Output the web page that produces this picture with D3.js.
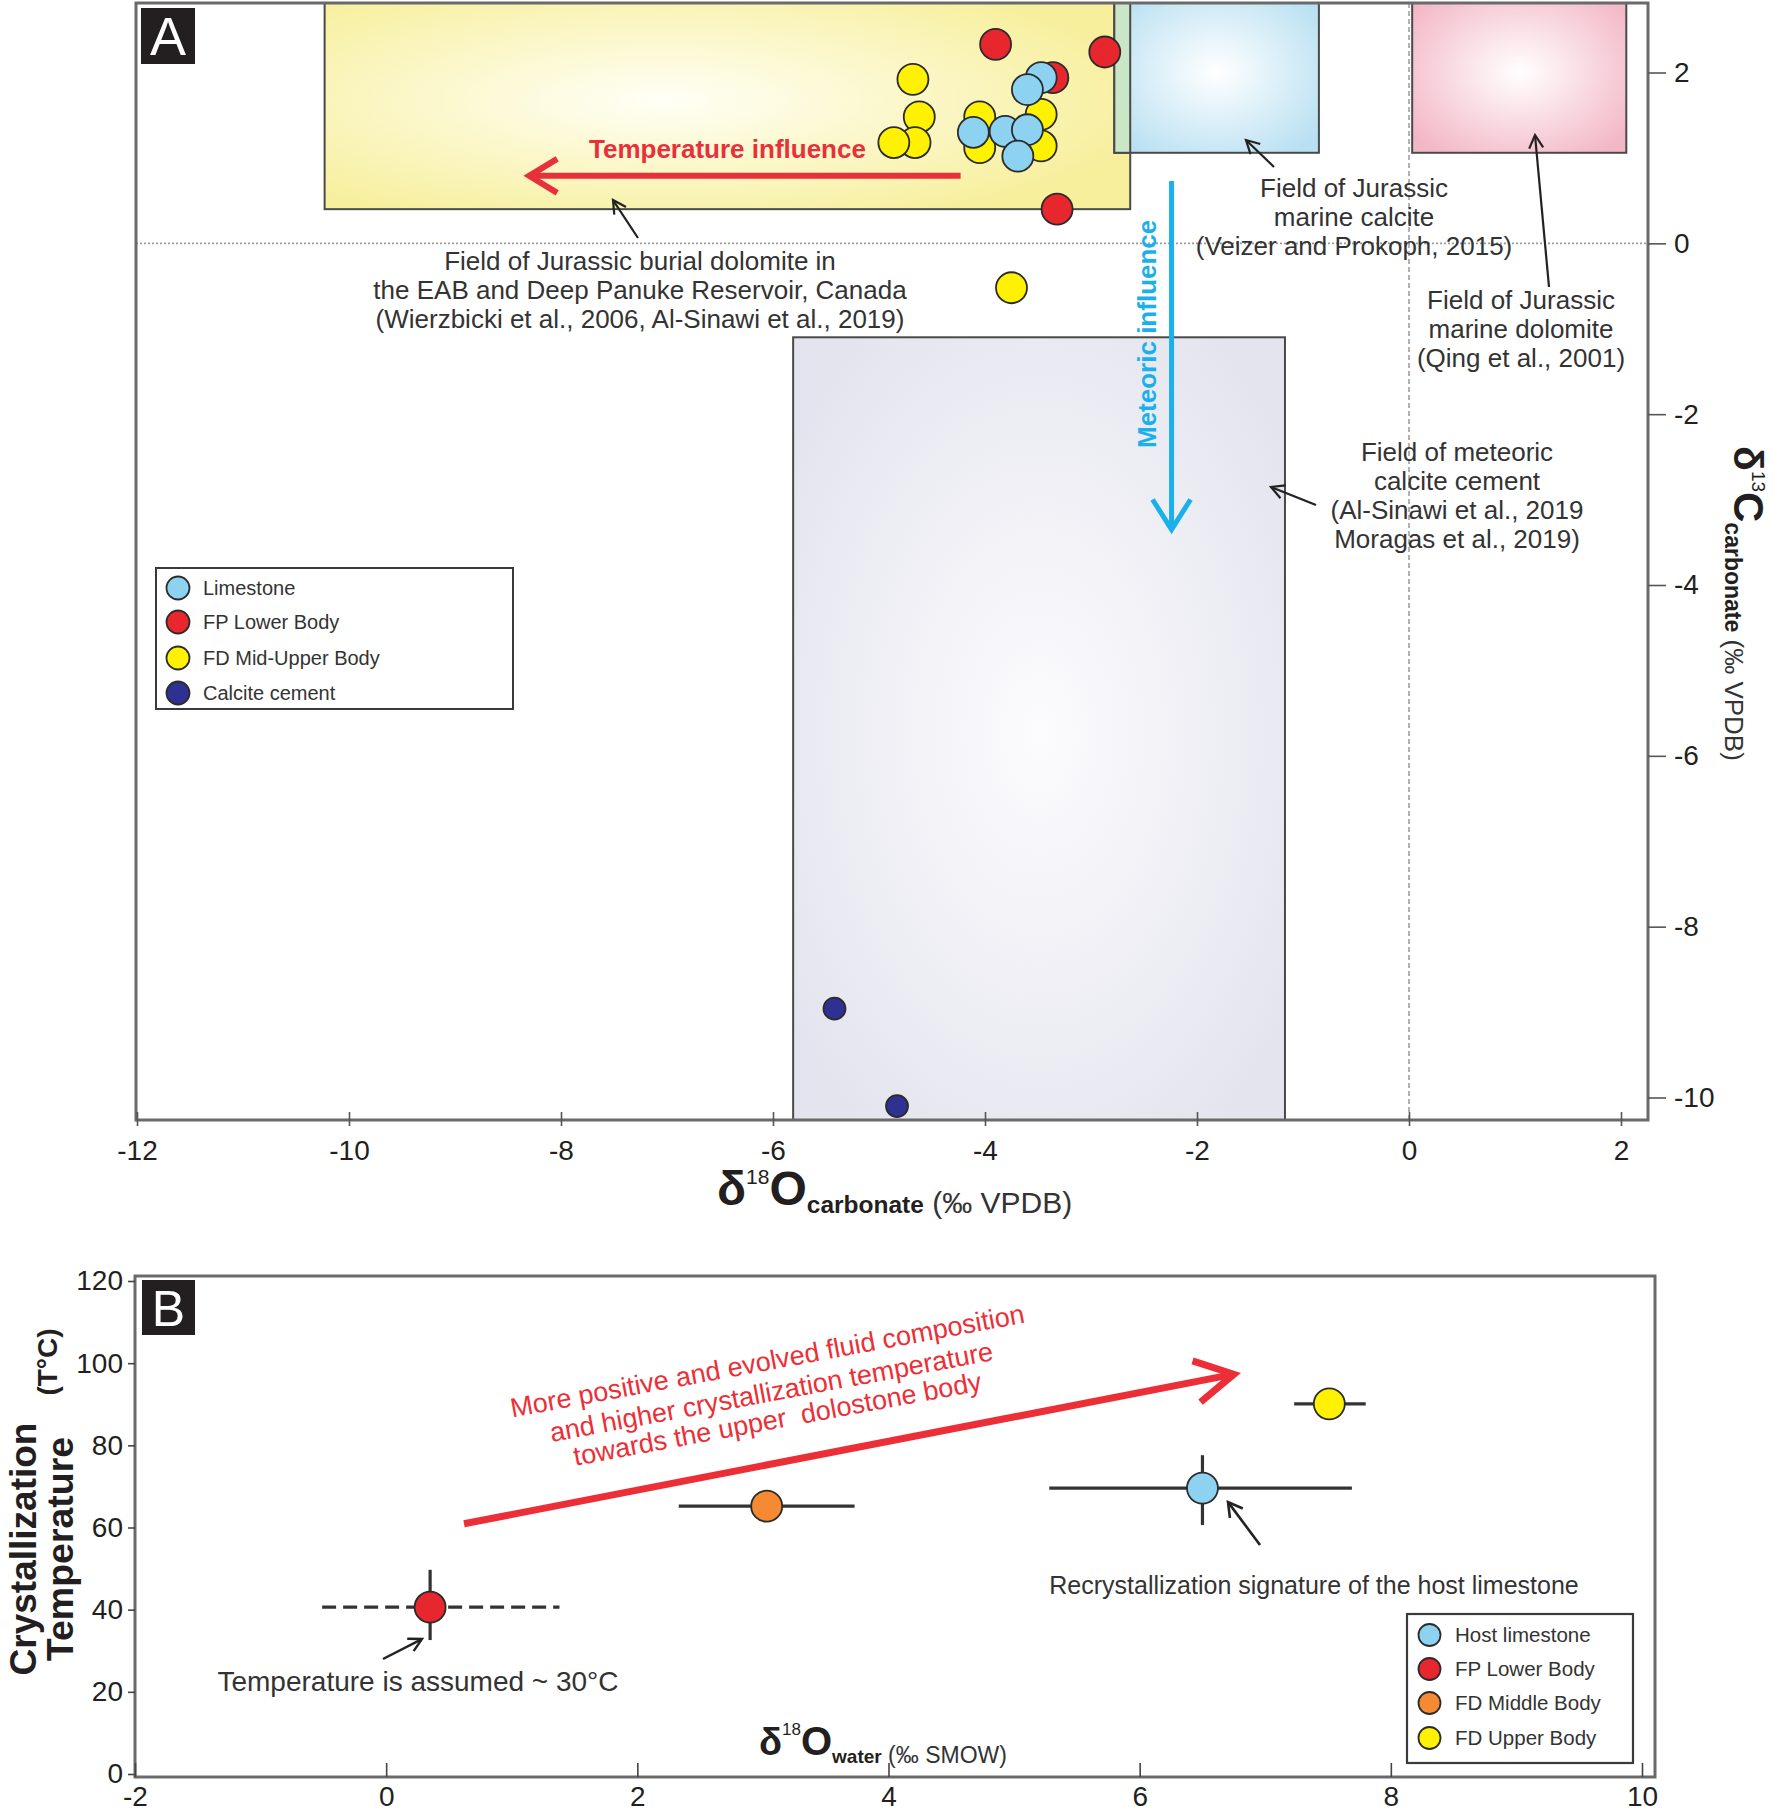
<!DOCTYPE html>
<html><head><meta charset="utf-8">
<script src="https://cdn.jsdelivr.net/npm/d3@7"></script>
<style>
body{margin:0;background:#fff}
text{font-family:'Liberation Sans',Arial,sans-serif}
</style>
</head><body><script>
// ---------------- Panel A data ----------------
const seriesA = ["Limestone", "FP Lower Body", "FD Mid-Upper Body", "Calcite cement"];
const limestoneX = [-3.47, -3.60, -4.11, -3.81, -3.60, -3.69];
const limestoneY = [1.94, 1.80, 1.30, 1.31, 1.33, 1.02];
const fpLowerX = [-3.90, -2.87, -3.36, -3.32];
const fpLowerY = [2.33, 2.24, 1.94, 0.40];
const fdMidUpperX = [-4.68, -4.62, -4.66, -4.86, -4.05, -4.05, -3.47, -3.47, -3.75];
const fdMidUpperY = [1.92, 1.48, 1.18, 1.18, 1.48, 1.12, 1.51, 1.14, -0.52];
const cementX = [-5.42, -4.83];
const cementY = [-8.96, -10.10];
const xTicksA = [-12, -10, -8, -6, -4, -2, 0, 2];
const yTicksA = [2, 0, -2, -4, -6, -8, -10];
// reference fields (δ18O range, δ13C range)
const fieldNames = ["burial", "marineCalcite", "marineDolomite", "meteoric"];
const fieldX0 = [-10.23, -2.78, 0.03, -5.81];
const fieldX1 = [-2.63, -0.85, 2.05, -1.17];
const fieldY0 = [0.40, 1.06, 1.06, -10.35];
const fieldY1 = [2.95, 2.95, 2.95, -1.10];

// ---------------- Panel B data ----------------
const seriesB = ["Host limestone", "FP Lower Body", "FD Middle Body", "FD Upper Body"];
const waterO = [6.50, 0.35, 3.03, 7.51];
const tempC = [69.6, 40.6, 65.2, 90.1];
const waterLo = [5.28, -0.51, 2.33, 7.23];
const waterHi = [7.69, 1.38, 3.73, 7.80];
const tempLo = [60.6, 32.6, null, null];
const tempHi = [77.6, 49.7, null, null];
const xTicksB = [-2, 0, 2, 4, 6, 8, 10];
const yTicksB = [0, 20, 40, 60, 80, 100, 120];

// ---------------- styles ----------------
const colA = {"Limestone": "#8dd3f1", "FP Lower Body": "#e8262d", "FD Mid-Upper Body": "#fff200", "Calcite cement": "#2e3192"};
const colB = {"Host limestone": "#8dd3f1", "FP Lower Body": "#e8262d", "FD Middle Body": "#f58a32", "FD Upper Body": "#fff200"};
const fieldStyle = {
  burial: {c0: "#fffff6", c1: "#f7ef9c", cx: "42%"},
  marineCalcite: {c0: "#ffffff", c1: "#b9e0f2", cx: "50%"},
  marineDolomite: {c0: "#ffffff", c1: "#f3b8c7", cx: "50%"},
  meteoric: {c0: "#fcfcfe", c1: "#e4e4ee", cx: "50%"}
};
const OVERLAP = "#c9e6c6";
const INK = "#231f20", TXT = "#333";

const svg = d3.select("body").append("svg").attr("width", 1774).attr("height", 1812);
const defs = svg.append("defs");

function T(g, x, y, str, o = {}) {
  const t = g.append("text")
    .attr("transform", `translate(${x},${y})` + (o.rot ? ` rotate(${o.rot})` : ""))
    .attr("text-anchor", o.anchor || "start")
    .style("font-size", (o.size || 26) + "px")
    .style("font-weight", o.weight || "normal")
    .style("fill", o.fill || TXT)
    .style("white-space", "pre");
  t.text(str);
  return t;
}
function chevronArrow(g, x1, y1, x2, y2, back, half, color, width, cap) {
  const dx = x2 - x1, dy = y2 - y1, L = Math.hypot(dx, dy), ux = dx / L, uy = dy / L, px = -uy, py = ux;
  g.append("line").attr("x1", x1).attr("y1", y1).attr("x2", x2 - ux * width * 0.3).attr("y2", y2 - uy * width * 0.3)
    .attr("stroke", color).attr("stroke-width", width).attr("stroke-linecap", cap || "butt");
  g.append("path")
    .attr("d", `M${x2 - ux * back + px * half},${y2 - uy * back + py * half}L${x2},${y2}L${x2 - ux * back - px * half},${y2 - uy * back - py * half}`)
    .attr("fill", "none").attr("stroke", color).attr("stroke-width", width).attr("stroke-linejoin", "miter");
}

// ================= PANEL A =================
const frameA = {l: 136, r: 1648, t: 3, b: 1120};
const xA = d3.scaleLinear().domain([-12, 2]).range([137, 1621]);
const yA = d3.scaleLinear().domain([-10, 2]).range([1097.5, 72.5]);

defs.append("clipPath").attr("id", "clipA").append("rect")
  .attr("x", frameA.l).attr("y", frameA.t).attr("width", frameA.r - frameA.l).attr("height", frameA.b - frameA.t);

fieldNames.forEach(n => {
  const s = fieldStyle[n];
  const gr = defs.append("radialGradient").attr("id", "grad-" + n).attr("cx", s.cx).attr("cy", "50%").attr("r", "62%");
  gr.append("stop").attr("offset", "0%").attr("stop-color", s.c0);
  gr.append("stop").attr("offset", "100%").attr("stop-color", s.c1);
});

const gA = svg.append("g");
const plotA = gA.append("g").attr("clip-path", "url(#clipA)");

// reference lines at 0
plotA.append("line").attr("x1", frameA.l).attr("x2", frameA.r).attr("y1", yA(0)).attr("y2", yA(0))
  .attr("stroke", "#9a9a9a").attr("stroke-width", 1.6).attr("stroke-dasharray", "2,2");
plotA.append("line").attr("x1", xA(0)).attr("x2", xA(0)).attr("y1", frameA.t).attr("y2", frameA.b)
  .attr("stroke", "#8a8a8a").attr("stroke-width", 1.3).attr("stroke-dasharray", "5,3");

// fields
const fields = fieldNames.map((n, i) => ({n, x0: fieldX0[i], x1: fieldX1[i], y0: fieldY0[i], y1: fieldY1[i]}));
plotA.selectAll("rect.field").data(fields).join("rect").attr("class", "field")
  .attr("x", d => xA(d.x0)).attr("width", d => xA(d.x1) - xA(d.x0))
  .attr("y", d => yA(d.y1)).attr("height", d => yA(d.y0) - yA(d.y1))
  .attr("fill", d => `url(#grad-${d.n})`)
  .attr("stroke", "#4a4a4a").attr("stroke-width", 2);
// overlapping parts of fields
const overlaps = [];
fields.forEach((a, i) => fields.forEach((b, j) => {
  if (j <= i) return;
  const x0 = Math.max(a.x0, b.x0), x1 = Math.min(a.x1, b.x1), y0 = Math.max(a.y0, b.y0), y1 = Math.min(a.y1, b.y1);
  if (x1 > x0 && y1 > y0) overlaps.push({x0, x1, y0, y1});
}));
plotA.selectAll("rect.overlap").data(overlaps).join("rect").attr("class", "overlap")
  .attr("x", d => xA(d.x0)).attr("width", d => xA(d.x1) - xA(d.x0))
  .attr("y", d => yA(d.y1)).attr("height", d => yA(d.y0) - yA(d.y1))
  .attr("fill", OVERLAP).attr("stroke", "#4a4a4a").attr("stroke-width", 2);

// frame
gA.append("rect").attr("x", frameA.l).attr("y", frameA.t).attr("width", frameA.r - frameA.l).attr("height", frameA.b - frameA.t)
  .attr("fill", "none").attr("stroke", "#6a6a6a").attr("stroke-width", 3);

// axes
const axXA = gA.append("g").attr("transform", `translate(0,${frameA.b})`)
  .call(d3.axisBottom(xA).tickValues(xTicksA).tickSizeInner(-8).tickSizeOuter(0).tickFormat(d => String(d)));
axXA.select(".domain").remove();
axXA.attr("font-size", null).attr("font-family", null);
axXA.selectAll(".tick line").attr("y1", 6).attr("stroke", "#555").attr("stroke-width", 1.6);
axXA.selectAll(".tick text").attr("y", 40).attr("dy", 0).style("font-size", "28px").attr("fill", INK);

const axYA = gA.append("g").attr("transform", `translate(${frameA.r},0)`)
  .call(d3.axisRight(yA).tickValues(yTicksA).tickSize(18).tickPadding(8).tickFormat(d => String(d)));
axYA.select(".domain").remove();
axYA.attr("font-size", null).attr("font-family", null);
axYA.selectAll(".tick line").attr("stroke", "#555").attr("stroke-width", 1.6);
axYA.selectAll(".tick text").style("font-size", "28px").attr("fill", INK);

// axis titles A
const tx = gA.append("text").attr("transform", "translate(717,1205)").style("fill", INK);
tx.append("tspan").text("δ").style("font-size", "48px").style("font-weight", "bold");
tx.append("tspan").text("18").style("font-size", "21px").attr("dy", -21);
tx.append("tspan").text("O").style("font-size", "48px").style("font-weight", "bold").attr("dy", 21);
tx.append("tspan").text("carbonate").style("font-size", "24.5px").style("font-weight", "bold").attr("dy", 8);
tx.append("tspan").text(" (‰ VPDB)").style("font-size", "30px").style("fill", TXT);

const ty = gA.append("text").attr("transform", "translate(1734,446) rotate(90)").style("fill", INK);
ty.append("tspan").text("δ").style("font-size", "41px").style("font-weight", "bold");
ty.append("tspan").text("13").style("font-size", "19px").attr("dy", -18);
ty.append("tspan").text("C").style("font-size", "42px").style("font-weight", "bold").attr("dy", 18);
ty.append("tspan").text("carbonate").style("font-size", "23px").style("font-weight", "bold").attr("dy", 9);
ty.append("tspan").text(" (‰ VPDB)").style("font-size", "26px").style("fill", TXT);

// annotations A
const annA = gA.append("g");
[["Field of Jurassic burial dolomite in", "the EAB and Deep Panuke Reservoir, Canada", "(Wierzbicki et al., 2006, Al-Sinawi et al., 2019)"],
 ["Field of Jurassic", "marine calcite", "(Veizer and Prokoph, 2015)"],
 ["Field of Jurassic", "marine dolomite", "(Qing et al., 2001)"],
 ["Field of meteoric", "calcite cement", "(Al-Sinawi et al., 2019", "Moragas et al., 2019)"]]
.forEach((lines, k) => {
  const pos = [[640, 270], [1354, 197], [1521, 309], [1457, 461]][k];
  lines.forEach((s, j) => T(annA, pos[0], pos[1] + j * 29, s, {anchor: "middle", size: 26}));
});
[[638, 238, 613, 200], [1274, 167, 1246, 140], [1549, 287, 1535, 135], [1316, 505, 1271, 487]]
.forEach(a => chevronArrow(annA, a[0], a[1], a[2], a[3], 13, 7, "#222", 2.2));

// influence arrows
chevronArrow(gA, xA(-4.23), yA(0.79), xA(-8.30), yA(0.79), 28, 17, "#e8303a", 6);
T(gA, 589, 158, "Temperature influence", {size: 26, weight: "bold", fill: "#e8303a"});
chevronArrow(gA, xA(-2.24), yA(0.73), xA(-2.24), yA(-3.35), 30, 19, "#1ab0ec", 5);
T(gA, 1156, 448, "Meteoric influence", {size: 26, weight: "bold", fill: "#1ab0ec", rot: -90});

// points
const ptsA = [
  {s: "FP Lower Body", xs: fpLowerX, ys: fpLowerY, r: 15.5},
  {s: "FD Mid-Upper Body", xs: fdMidUpperX, ys: fdMidUpperY, r: 15.5},
  {s: "Limestone", xs: limestoneX, ys: limestoneY, r: 15.5},
  {s: "Calcite cement", xs: cementX, ys: cementY, r: 11}
];
ptsA.forEach(p => {
  gA.append("g").selectAll("circle").data(p.xs.map((x, i) => ({x, y: p.ys[i]}))).join("circle")
    .attr("cx", d => xA(d.x)).attr("cy", d => yA(d.y)).attr("r", p.r)
    .attr("fill", colA[p.s]).attr("stroke", "#2b2b2b").attr("stroke-width", 1.8);
});

// legend A
const lgA = gA.append("g");
lgA.append("rect").attr("x", 156).attr("y", 568).attr("width", 357).attr("height", 141)
  .attr("fill", "#fff").attr("stroke", "#3a3a3a").attr("stroke-width", 2);
const rowsA = [588, 622, 658, 693];
seriesA.forEach((s, i) => {
  lgA.append("circle").attr("cx", 178).attr("cy", rowsA[i]).attr("r", 11.5).attr("fill", colA[s]).attr("stroke", "#2b2b2b").attr("stroke-width", 1.8);
  T(lgA, 203, rowsA[i] + 7, s, {size: 20});
});

// panel label A
gA.append("rect").attr("x", 141).attr("y", 8).attr("width", 54).attr("height", 56).attr("fill", INK);
T(gA, 168, 55, "A", {anchor: "middle", size: 54, fill: "#fff"});

// ================= PANEL B =================
const frameB = {l: 135, r: 1655, t: 1276, b: 1777};
const xB = d3.scaleLinear().domain([-2, 10]).range([135, 1642]);
const yB = d3.scaleLinear().domain([0, 120]).range([1774, 1281]);
const gB = svg.append("g");

gB.append("rect").attr("x", frameB.l).attr("y", frameB.t).attr("width", frameB.r - frameB.l).attr("height", frameB.b - frameB.t)
  .attr("fill", "none").attr("stroke", "#6a6a6a").attr("stroke-width", 3);

const axXB = gB.append("g").attr("transform", `translate(0,${frameB.b})`)
  .call(d3.axisBottom(xB).tickValues(xTicksB).tickSizeInner(-14).tickSizeOuter(0).tickFormat(d => String(d)));
axXB.select(".domain").remove();
axXB.attr("font-size", null).attr("font-family", null);
axXB.selectAll(".tick line").attr("stroke", "#444").attr("stroke-width", 1.6);
axXB.selectAll(".tick text").attr("y", 29).attr("dy", 0).style("font-size", "28px").attr("fill", INK);

const axYB = gB.append("g").attr("transform", `translate(${frameB.l},0)`)
  .call(d3.axisLeft(yB).tickValues(yTicksB).tickSize(7).tickPadding(5).tickFormat(d => String(d)));
axYB.select(".domain").remove();
axYB.attr("font-size", null).attr("font-family", null);
axYB.selectAll(".tick line").attr("stroke", "#444").attr("stroke-width", 1.6);
axYB.selectAll(".tick text").style("font-size", "28px").attr("fill", INK);

// titles B
T(gB, 36, 1549, "Crystallization", {anchor: "middle", size: 37, weight: "bold", fill: INK, rot: -90});
T(gB, 73, 1549, "Temperature", {anchor: "middle", size: 37.5, weight: "bold", fill: INK, rot: -90});
T(gB, 57, 1362, "(T°C)", {anchor: "middle", size: 28, weight: "bold", fill: INK, rot: -90});

const txB = gB.append("text").attr("transform", "translate(759,1755)").style("fill", INK);
txB.append("tspan").text("δ").style("font-size", "38px").style("font-weight", "bold");
txB.append("tspan").text("18").style("font-size", "17px").attr("dy", -20);
txB.append("tspan").text("O").style("font-size", "40px").style("font-weight", "bold").attr("dy", 20);
txB.append("tspan").text("water").style("font-size", "19px").style("font-weight", "bold").attr("dy", 8);
txB.append("tspan").text(" (‰ SMOW)").style("font-size", "23px").style("fill", TXT);

// trend arrow + text
chevronArrow(gB, xB(0.62), yB(60.9), xB(6.75), yB(97.3), 38, 21, "#ec2f37", 7);
const trendLines = ["More positive and evolved fluid composition", "and higher crystallization temperature", "towards the upper  dolostone body"];
const trendPos = [[769, 1370], [773, 1401], [779, 1428]];
trendLines.forEach((s, i) => T(gB, trendPos[i][0], trendPos[i][1], s, {anchor: "middle", size: 27, fill: "#ec2f37", rot: -10.5}));

// annotations B
T(gB, 418, 1691, "Temperature is assumed ~ 30°C", {anchor: "middle", size: 28});
chevronArrow(gB, 383, 1659, 422, 1639, 13, 7, "#222", 2.4);
T(gB, 1314, 1594, "Recrystallization signature of the host limestone", {anchor: "middle", size: 25});
chevronArrow(gB, 1260, 1545, 1228, 1502, 14, 8, "#222", 2.6);

// error bars + points
const ptsB = seriesB.map((s, i) => ({s, x: waterO[i], y: tempC[i], xl: waterLo[i], xh: waterHi[i], yl: tempLo[i], yh: tempHi[i]}));
const gBars = gB.append("g");
ptsB.forEach(d => {
  gBars.append("line").attr("x1", xB(d.xl)).attr("x2", xB(d.xh)).attr("y1", yB(d.y)).attr("y2", yB(d.y))
    .attr("stroke", "#333").attr("stroke-width", 3.2)
    .attr("stroke-dasharray", d.s === "FP Lower Body" ? "14,7" : null);
  if (d.yl !== null) {
    gBars.append("line").attr("x1", xB(d.x)).attr("x2", xB(d.x)).attr("y1", yB(d.yl)).attr("y2", yB(d.yh))
      .attr("stroke", "#333").attr("stroke-width", 3.2);
  }
});
gB.append("g").selectAll("circle").data(ptsB).join("circle")
  .attr("cx", d => xB(d.x)).attr("cy", d => yB(d.y)).attr("r", 15.5)
  .attr("fill", d => colB[d.s]).attr("stroke", "#2b2b2b").attr("stroke-width", 1.8);

// legend B
const lgB = gB.append("g");
lgB.append("rect").attr("x", 1407).attr("y", 1614).attr("width", 226).attr("height", 149)
  .attr("fill", "#fff").attr("stroke", "#3a3a3a").attr("stroke-width", 2.2);
const rowsB = [1635, 1669, 1703, 1738];
seriesB.forEach((s, i) => {
  lgB.append("circle").attr("cx", 1429.5).attr("cy", rowsB[i]).attr("r", 11).attr("fill", colB[s]).attr("stroke", "#2b2b2b").attr("stroke-width", 1.8);
  T(lgB, 1455, rowsB[i] + 7, s, {size: 20.5});
});

// panel label B
gB.append("rect").attr("x", 142).attr("y", 1280).attr("width", 53).attr("height", 55).attr("fill", INK);
T(gB, 168.5, 1326, "B", {anchor: "middle", size: 50, fill: "#fff"});
</script></body></html>
